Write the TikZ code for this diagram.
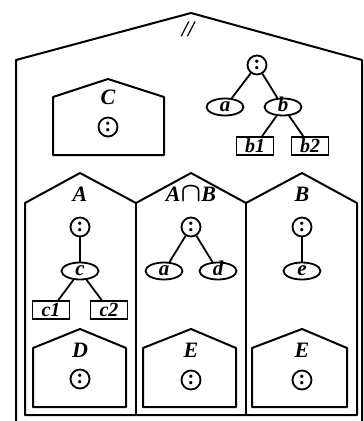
\documentclass[tikz,border=0pt]{standalone}
\usepackage{fontspec}
\setmainfont{Liberation Serif}
\usepackage{tikz}
\usetikzlibrary{shapes.geometric,positioning}
\tikzset{
  root/.style={draw,circle,line width=1.8pt,minimum size=19pt,inner sep=0pt,font=\fontsize{20}{20}\selectfont\bfseries},
  leaf/.style={draw,ellipse,line width=1.8pt,minimum width=37pt,minimum height=17pt,inner sep=0pt,
    text height=9.6pt,text depth=0pt,font=\fontsize{21}{21}\selectfont\bfseries\itshape},
  term/.style={draw,rectangle,line width=1.8pt,minimum width=37pt,minimum height=18pt,inner sep=0pt,
    text height=13.4pt,text depth=0pt,font=\fontsize{20}{20}\selectfont\bfseries\itshape},
  title/.style={font=\fontsize{22}{22}\selectfont\bfseries\itshape},
  edge/.style={line width=1.8pt},
  house/.style={line width=2pt,line join=round}
}

\begin{document}
\begin{tikzpicture}[x=1pt,y=-1pt]
\useasboundingbox (0,0) rectangle (364,421);

% outer house
\draw[house] (16,421) -- (16,60) -- (191,13) -- (362,60) -- (362,421);
\node[title] (slash) at (188,29) {//};

% house C
\draw[house] (53,155) -- (53,97) -- (108,79) -- (164,97) -- (164,155) -- cycle;
\node[title] (tC) at (108,97) {C};
\node[root] (rC) at (108,127) {:};

% tree top right
\node[root] (r0) at (257,65) {:};
\node[leaf] (a0) at (225,107) {a};
\node[leaf] (b0) at (283,107) {b};
\node[term] (b1) at (255,146) {b1};
\node[term] (b2) at (310,146) {b2};
\draw[edge] (r0) -- (a0);
\draw[edge] (r0) -- (b0);
\draw[edge] (b0) -- (b1);
\draw[edge] (b0) -- (b2);

% row of three houses
\draw[house] (25,415) -- (25,203) -- (80,173) -- (136,203) -- (191,173) -- (246,203)
  -- (302,173) -- (357,203) -- (357,415) -- cycle;
\draw[house] (136,203) -- (136,415);
\draw[house] (246,203) -- (246,415);
\node[title] (tA) at (80,194) {A};
\node[title] (tAB) at (191,194) {A\scalebox{1.3}{\boldmath$\cap$}B};
\node[title] (tB) at (302,194) {B};

% tree in A
\node[root] (r1) at (80,227) {:};
\node[leaf] (c1e) at (80,271) {c};
\node[term] (c1) at (51,310) {c1};
\node[term] (c2) at (109,310) {c2};
\draw[edge] (r1) -- (c1e);
\draw[edge] (c1e) -- (c1);
\draw[edge] (c1e) -- (c2);

% tree in A and B
\node[root] (r2) at (191,227) {:};
\node[leaf] (a2) at (164,271) {a};
\node[leaf] (d2) at (218,271) {d};
\draw[edge] (r2) -- (a2);
\draw[edge] (r2) -- (d2);

% tree in B
\node[root] (r3) at (302,227) {:};
\node[leaf] (e3) at (302,271) {e};
\draw[edge] (r3) -- (e3);

% bottom houses
\draw[house] (33,407) -- (33,348) -- (80,329) -- (126,348) -- (126,407) -- cycle;
\node[title] (tD) at (80,350) {D};
\node[root] (rD) at (80,379) {:};

\draw[house] (143,407) -- (143,348) -- (191,329) -- (236,348) -- (236,407) -- cycle;
\node[title] (tE1) at (191,350) {E};
\node[root] (rE1) at (191,380) {:};

\draw[house] (252,407) -- (252,348) -- (302,329) -- (347,348) -- (347,407) -- cycle;
\node[title] (tE2) at (302,350) {E};
\node[root] (rE2) at (302,380) {:};
\end{tikzpicture}
\end{document}
